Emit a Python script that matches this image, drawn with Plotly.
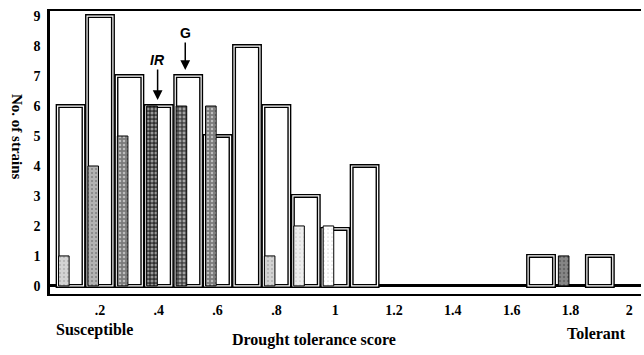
import plotly.graph_objects as go

# bin centres (drought tolerance score)
scores = [0.1, 0.2, 0.3, 0.4, 0.5, 0.6, 0.7, 0.8, 0.9, 1.0, 1.1, 1.7, 1.8, 1.9]
# open (outlined) bars
open_counts = [6, 9, 7, 6, 7, 5, 8, 6, 3, 1.9, 4, 1, 0, 1]
# shaded (stippled) bars
shaded_counts = [1, 4, 5, 6, 6, 6, 0, 1, 2, 2, 0, 0, 1, 0]
# stipple density of each shaded bar (0 = white)
shade_density = [0.2, 0.35, 0.6, 0.95, 0.85, 0.6, 0, 0.2, 0.08, 0, 0, 0, 0.55, 0]

xticks = [0.2, 0.4, 0.6, 0.8, 1.0, 1.2, 1.4, 1.6, 1.8, 2.0]
xticklabels = [".2", ".4", ".6", ".8", "1", "1.2", "1.4", "1.6", "1.8", "2"]
yticks = list(range(10))

BW = 0.088
SW = 0.036

def nz(v):
    return [c if c and c > 0 else None for c in v]

fig = go.Figure()

# open bars: black thick outline + thin white inner line -> double outline
fig.add_trace(go.Bar(
    x=scores, y=nz(open_counts), width=BW, offset=-BW / 2,
    marker=dict(color="white", line=dict(color="black", width=4)),
    showlegend=False, hoverinfo="skip"))
fig.add_trace(go.Bar(
    x=scores, y=nz(open_counts), width=BW, offset=-BW / 2,
    marker=dict(color="rgba(0,0,0,0)", line=dict(color="white", width=1.2)),
    showlegend=False, hoverinfo="skip"))

# shaded bars on the left part of each bin
grey = [f"rgb({int(255 - 220 * d)},{int(255 - 220 * d)},{int(255 - 220 * d)})" for d in shade_density]
fig.add_trace(go.Bar(
    x=scores, y=nz(shaded_counts), width=SW, offset=-BW / 2 + 0.003,
    marker=dict(color=grey,
                line=dict(color="black", width=1),
                pattern=dict(shape=".", fgcolor="black", bgcolor=grey,
                             solidity=[max(0.05, d * 0.5) for d in shade_density],
                             size=4)),
    showlegend=False, hoverinfo="skip"))

font_serif = "Liberation Serif"

fig.update_layout(
    barmode="overlay",
    width=644, height=355,
    margin=dict(l=50, r=3, t=11, b=61),
    paper_bgcolor="white", plot_bgcolor="white",
    font=dict(family=font_serif, color="black", size=12),
    xaxis=dict(range=[0.03, 2.04], tickvals=xticks, ticktext=[f"<b>{t}</b>" for t in xticklabels],
               showgrid=False, zeroline=False, showline=True, linecolor="black", linewidth=2,
               mirror=True, ticks="", ticklabelstandoff=2, tickfont=dict(size=14, family=font_serif)),
    yaxis=dict(range=[-0.27, 9.17], tickvals=yticks, ticktext=[f"<b>{t}</b>" for t in yticks],
               showgrid=False, zeroline=True, zerolinecolor="black", zerolinewidth=2.5,
               showline=True, linecolor="black", linewidth=2.5,
               mirror=False, ticks="", ticklabelstandoff=4, tickfont=dict(size=14, family=font_serif)),
    annotations=[
        dict(text="<b>Susceptible</b>", xref="paper", yref="paper", x=0.076, y=-0.127,
             xanchor="center", yanchor="middle",
             showarrow=False, font=dict(size=16, family=font_serif)),
        dict(text="<b>Drought tolerance score</b>", xref="paper", yref="paper", x=0.447, y=-0.163,
             xanchor="center", yanchor="middle",
             showarrow=False, font=dict(size=16, family=font_serif)),
        dict(text="<b>Tolerant</b>", xref="paper", yref="paper", x=0.924, y=-0.138,
             xanchor="center", yanchor="middle",
             showarrow=False, font=dict(size=16, family=font_serif)),
        dict(text="<b>No. of strains</b>", xref="paper", yref="paper", x=-0.056, y=0.555,
             xanchor="center", yanchor="middle",
             textangle=90, showarrow=False, font=dict(size=15, family=font_serif)),
        dict(text="<b><i>IR</i></b>", x=0.396, y=6.2, xref="x", yref="y", ax=0, ay=-40,
             showarrow=True, arrowhead=2, arrowsize=1.3, arrowwidth=1.5, arrowcolor="black",
             font=dict(size=14, family="Liberation Sans")),
        dict(text="<b>G</b>", x=0.49, y=7.2, xref="x", yref="y", ax=0, ay=-37,
             showarrow=True, arrowhead=2, arrowsize=1.3, arrowwidth=1.5, arrowcolor="black",
             font=dict(size=14, family="Liberation Sans")),
    ],
)

fig.write_html("out.html", post_script="document.body.style.margin='0';",
               config={"displayModeBar": False})
